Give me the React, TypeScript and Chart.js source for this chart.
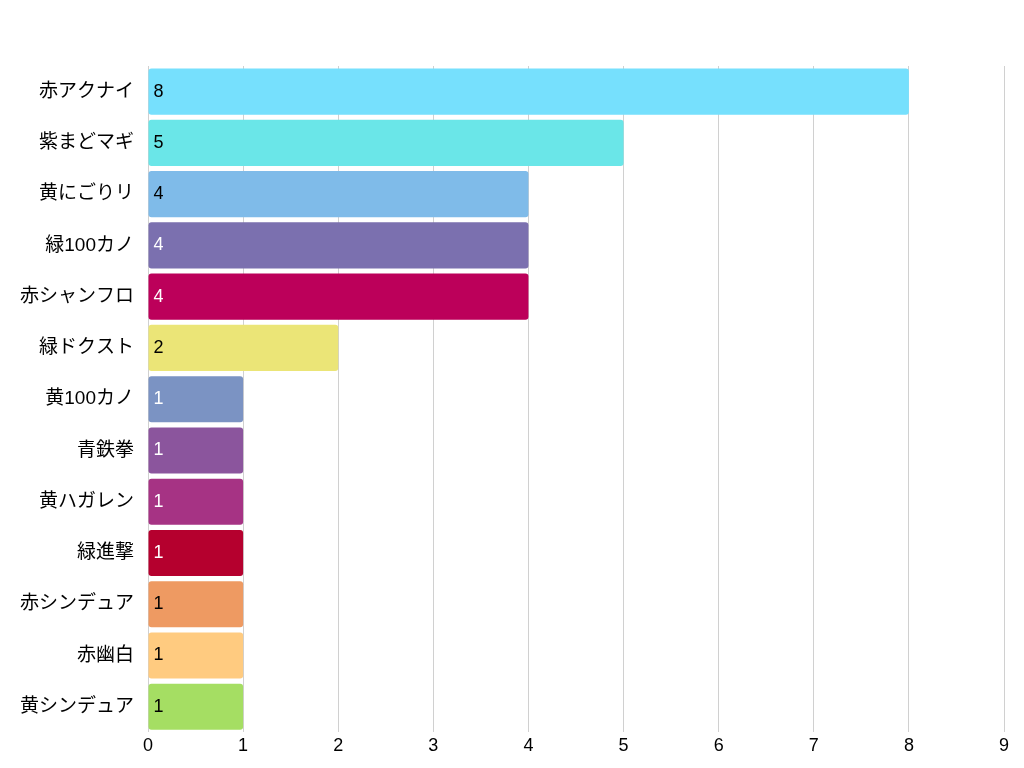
import React, { useEffect, useRef } from "react";
import { Chart, registerables } from "chart.js";
Chart.register(...registerables);

const categories = ["赤アクナイ","紫まどマギ","黄にごりリ","緑100カノ","赤シャンフロ","緑ドクスト","黄100カノ","青鉄拳","黄ハガレン","緑進撃","赤シンデュア","赤幽白","黄シンデュア"];
const values = [8,5,4,4,4,2,1,1,1,1,1,1,1];
const colors = ["#76E0FD","#6AE6E8","#7FBBE9","#7B70AF","#BC005A","#EBE577","#7B93C3","#8B559D","#A63384","#B5002E","#EE9A62","#FFCB80","#A5DE63"];
const labelColors = ["#000","#000","#000","#fff","#fff","#000","#fff","#fff","#fff","#fff","#000","#000","#000"];

const FONT = "'Liberation Sans', Arial, 'Noto Sans CJK JP', sans-serif";

const labelPlugin = {
  id: "valueLabels",
  afterDatasetsDraw(chart: any) {
    const ctx = chart.ctx;
    const meta = chart.getDatasetMeta(0);
    ctx.save();
    ctx.font = `18px ${FONT}`;
    ctx.textBaseline = "middle";
    ctx.textAlign = "left";
    meta.data.forEach((bar: any, i: number) => {
      ctx.fillStyle = labelColors[i];
      ctx.fillText(String(values[i]), bar.base + 5, bar.y);
    });
    ctx.restore();
  },
};

export default function App() {
  const ref = useRef<HTMLCanvasElement>(null);
  useEffect(() => {
    const chart = new Chart(ref.current!, {
      type: "bar",
      data: {
        labels: categories,
        datasets: [{ data: values, backgroundColor: colors, borderRadius: 3, borderSkipped: false, barPercentage: 0.9, categoryPercentage: 1 }],
      },
      options: {
        indexAxis: "y",
        animation: false,
        responsive: true,
        maintainAspectRatio: false,
        layout: { padding: { top: 58, right: 12, left: 6 } },
        plugins: { legend: { display: false }, tooltip: { enabled: false } },
        scales: {
          x: {
            min: 0, max: 9,
            ticks: { stepSize: 1, color: "#000", font: { size: 18, family: FONT } },
            grid: { color: "#d0d0d0", drawTicks: false },
            border: { display: false },
          },
          y: {
            ticks: { color: "#000", font: { size: 19, family: FONT }, padding: 6 },
            grid: { display: false },
            border: { display: false },
          },
        },
      },
      plugins: [labelPlugin],
    });
    return () => chart.destroy();
  }, []);
  return (
    <div style={{ width: 1008, height: 752 }}>
      <canvas ref={ref} />
    </div>
  );
}
